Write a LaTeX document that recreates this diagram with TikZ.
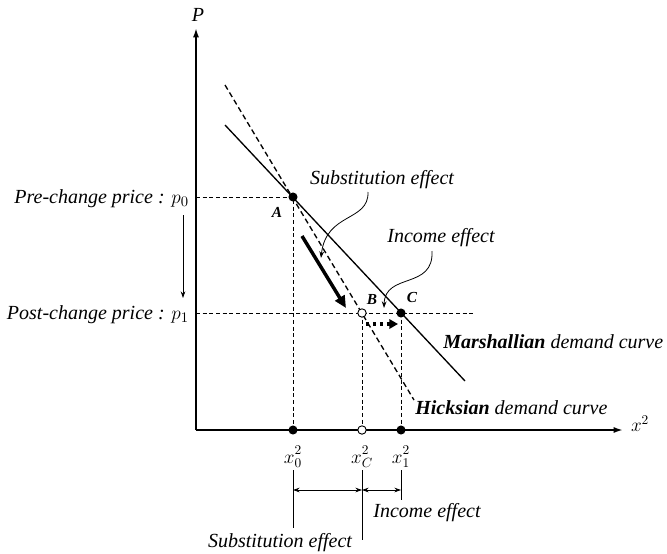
\documentclass[tikz,border=0pt]{standalone}
\usepackage{fontspec}
\setmainfont{Liberation Serif}
\usetikzlibrary{arrows.meta}
\newcommand{\xlbl}[1]{$x^{\raisebox{1.2pt}{$\scriptstyle 2$}}_{#1}$}
\begin{document}
\begin{tikzpicture}[x=0.75pt,y=-0.75pt,
  dot/.style={circle,fill=black,inner sep=0pt,minimum size=6.8pt},
  odot/.style={circle,draw=black,fill=white,line width=0.7pt,inner sep=0pt,minimum size=6.3pt},
  lbl/.style={font=\fontsize{15}{17}\selectfont\itshape,inner sep=0pt},
  biglbl/.style={font=\fontsize{15}{17}\selectfont\itshape,inner sep=0pt},
  ptlbl/.style={font=\fontsize{11.5}{13}\selectfont\bfseries\itshape,inner sep=0pt},
  mathlbl/.style={font=\fontsize{14}{16}\selectfont,inner sep=0pt},
  guide/.style={dash pattern=on 3pt off 2pt,line width=0.6pt},
  axisline/.style={line width=1.3pt,-{Latex[length=7pt,width=4.5pt]}},
  curve/.style={line width=1pt},
  ptr/.style={line width=0.6pt,-{Stealth[length=5pt,width=3.5pt]}},
  dim/.style={line width=0.6pt,{Stealth[length=5pt,width=3.5pt]}-{Stealth[length=5pt,width=3.5pt]}},
  tick/.style={line width=0.6pt}]
\useasboundingbox (0,0) rectangle (667,553);

% axes
\coordinate (O) at (196,430);
\coordinate (Ytop) at (196,28);
\coordinate (Xend) at (623,430);
\draw[axisline] (O) -- (Ytop);
\draw[axisline] (O) -- (Xend);
\node[lbl] (Plab) at (198,15) {P};
\node[mathlbl] (xlab) at (640,424) {$x^2$};

% key points
\coordinate (A) at (293,197);
\coordinate (B) at (362,313);
\coordinate (C) at (401,313);
\coordinate (P0) at (196,197);
\coordinate (P1) at (196,313);
\coordinate (P1end) at (474,313);
\coordinate (XA) at (293,430);
\coordinate (XB) at (362,430);
\coordinate (XC) at (401,430);

% guides
\draw[guide] (P0) -- (A) -- (XA);
\draw[guide] (P1) -- (P1end);
\draw[guide] (B) -- (XB);
\draw[guide] (C) -- (XC);

% demand curves
\coordinate (M1) at (225,125);
\coordinate (M2) at (465,381);
\coordinate (H1) at (225,85);
\coordinate (H2) at (414,400);
\draw[curve] (M1) -- (M2);
\draw[line width=1pt,dash pattern=on 4pt off 2.5pt] (H1) -- (H2);

% points
\node[dot] (nA) at (A) {};
\node[odot] (nB) at (B) {};
\node[dot] (nC) at (C) {};
\node[dot] (axA) at (XA) {};
\node[odot] (axB) at (XB) {};
\node[dot] (axC) at (XC) {};
\node[ptlbl] (labA) at (277,212) {A};
\node[ptlbl] (labB) at (372,299) {B};
\node[ptlbl] (labC) at (412,297) {C};

% thick substitution arrow
\coordinate (S1) at (302,236);
\coordinate (S2) at (346,308);
\draw[line width=2.6pt,-{Triangle[length=9pt,width=8pt]}] (S1) -- (S2);
% dotted income arrow
\coordinate (I1) at (366,324);
\coordinate (I2) at (398,324);
\draw[line width=2.4pt,dash pattern=on 2.6pt off 2.6pt,-{Triangle[length=6.5pt,width=7pt]}] (I1) -- (I2);

% labels
\node[lbl] (subtxt) at (382,180) {Substitution effect};
\node[lbl] (inctxt) at (441,238) {Income effect};
\coordinate (subtip) at (321,258);
\coordinate (inctip) at (384,308);
\draw[ptr] (368,192) .. controls (369,222) and (326,212) .. (subtip);
\draw[ptr] (432,251) .. controls (434,290) and (385,272) .. (inctip);

\node[lbl,anchor=west] (marsh) at (443,342) {\textbf{Marshallian}\ demand curve};
\node[lbl,anchor=west] (hicks) at (415,408) {\textbf{Hicksian}\ demand curve};

% price labels
\node[biglbl,anchor=east] (pre) at (189,199) {Pre-change price : $p_0$};
\node[biglbl,anchor=east] (post) at (189,315) {Post-change price : $p_1$};
\coordinate (d1) at (183,215);
\coordinate (d2) at (183,298);
\draw[ptr] (d1) -- (d2);

% axis labels
\node[mathlbl] (x0) at (293,457) {\xlbl{0}};
\node[mathlbl] (xc) at (362,457) {\xlbl{C}};
\node[mathlbl] (x1) at (401,457) {\xlbl{1}};

% dimension lines
\coordinate (t0a) at (293,470); \coordinate (t0b) at (293,528);
\coordinate (tca) at (362,470); \coordinate (tcb) at (362,540);
\coordinate (t1a) at (401,470); \coordinate (t1b) at (401,500);
\draw[tick] (t0a) -- (t0b);
\draw[tick] (tca) -- (tcb);
\draw[tick] (t1a) -- (t1b);
\coordinate (da) at (293,490); \coordinate (db) at (362,490); \coordinate (dc) at (401,490);
\draw[dim] (da) -- (db);
\draw[dim] (db) -- (dc);
\node[lbl] (incb) at (427,513) {Income effect};
\node[lbl] (subb) at (280,543) {Substitution effect};
\end{tikzpicture}
\end{document}
